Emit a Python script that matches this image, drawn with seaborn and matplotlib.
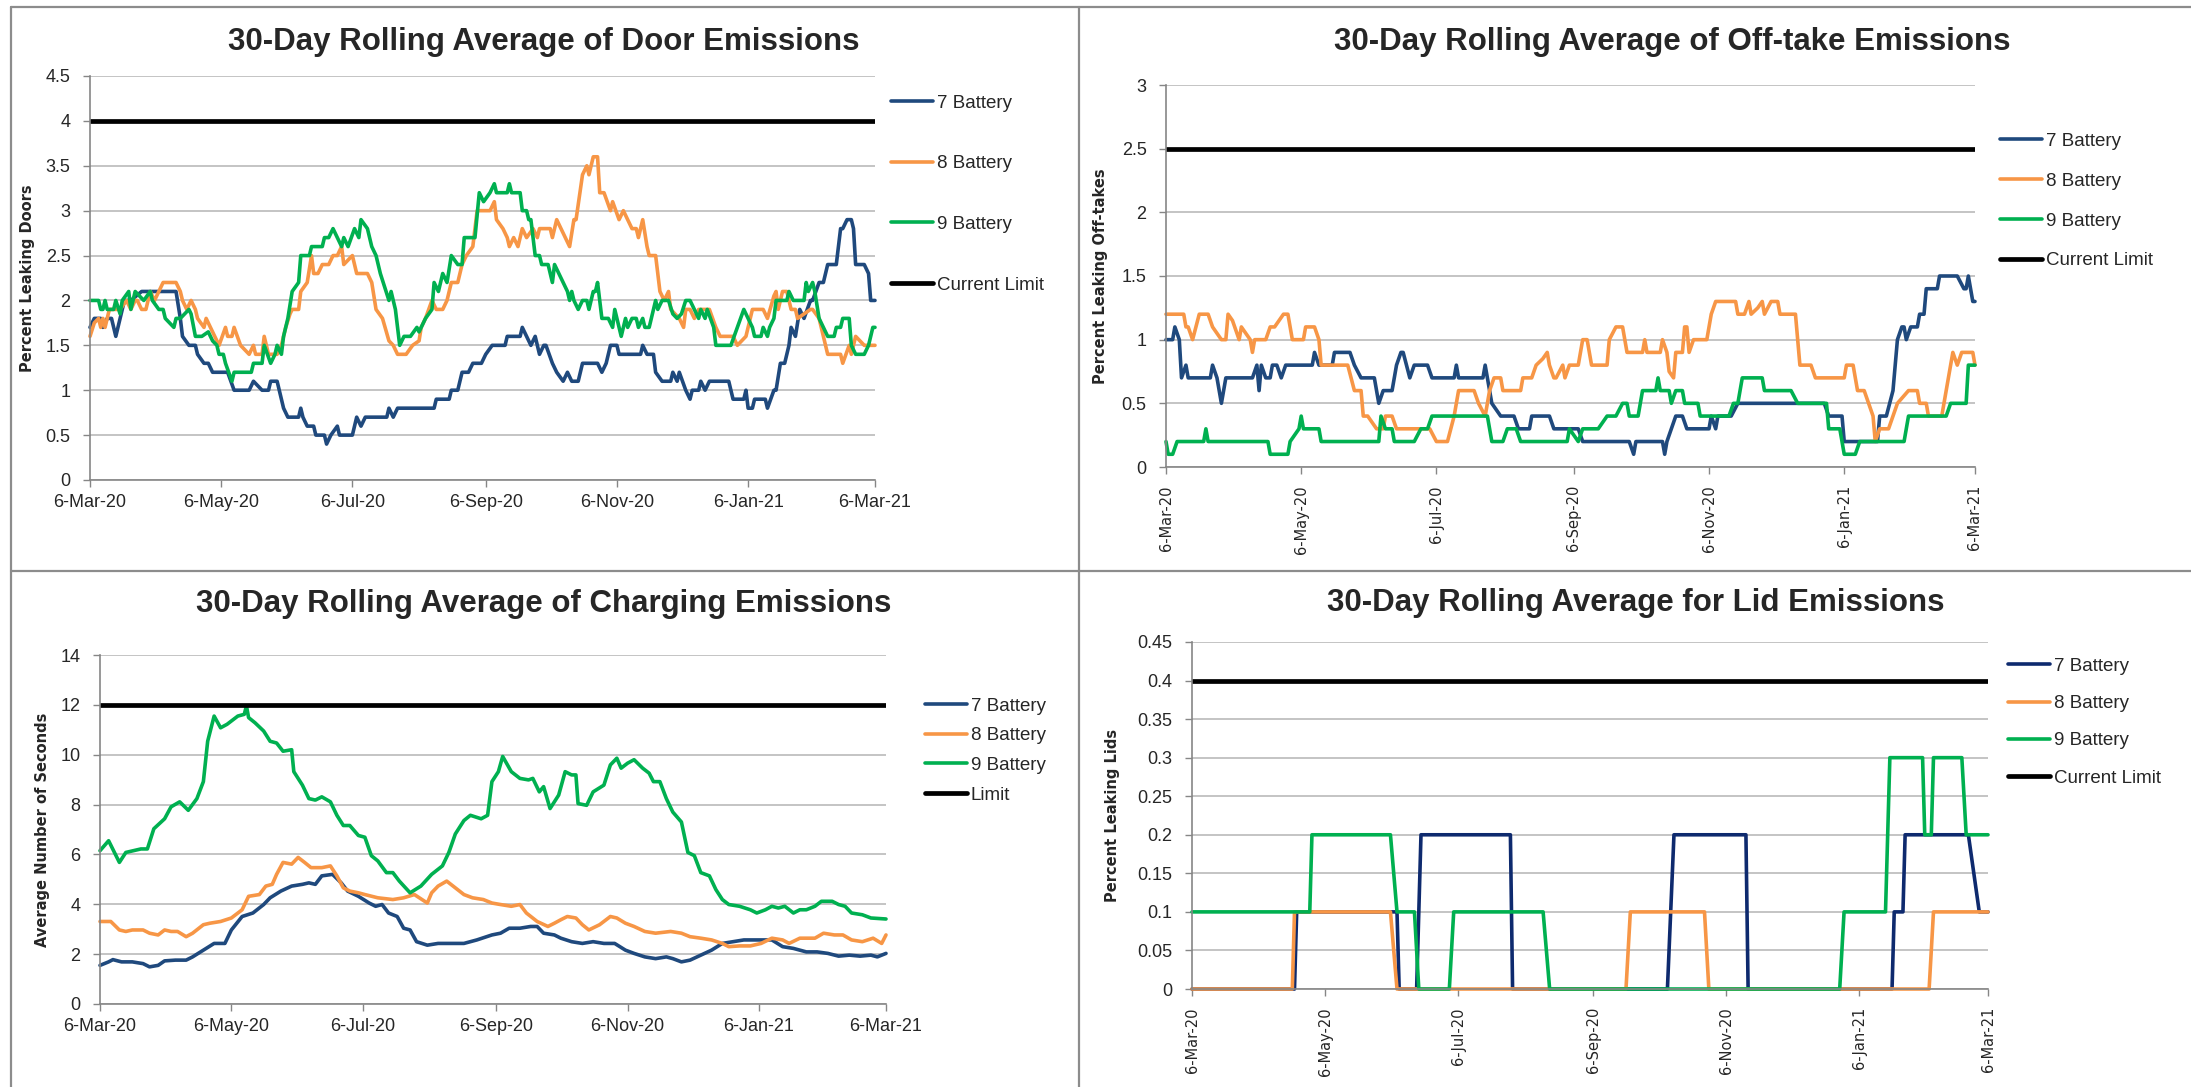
import numpy as np
import pandas as pd
import matplotlib
matplotlib.use("Agg")
import matplotlib.pyplot as plt
from matplotlib.lines import Line2D
import seaborn as sns

# ---- data (day offsets from 6-Mar-20) ----
START = pd.Timestamp("2020-03-06")
END = pd.Timestamp("2021-03-06")
TICK_DATES = ["2020-03-06", "2020-05-06", "2020-07-06", "2020-09-06",
              "2020-11-06", "2021-01-06", "2021-03-06"]
TICK_LABELS = ["6-Mar-20", "6-May-20", "6-Jul-20", "6-Sep-20",
               "6-Nov-20", "6-Jan-21", "6-Mar-21"]
SERIES_NAMES = ["7 Battery", "8 Battery", "9 Battery"]

DOOR_LIMIT = 4.0
DOOR_7_DAYS = [0, 2, 5, 6, 8, 10, 12, 14, 16, 19, 24, 40, 42, 43, 46, 49, 50, 53, 55, 57, 64, 67, 74, 76, 80, 83, 84, 87, 90, 92,
               97, 98, 99, 101, 104, 105, 109, 110, 112, 115, 116, 122, 124, 126, 128, 138, 139, 141, 143, 160, 161, 167, 168,
               171, 173, 176, 178, 182, 184, 187, 193, 194, 200, 201, 203, 205, 207, 209, 211, 212, 215, 217, 220, 222, 224,
               227, 229, 236, 238, 240, 242, 245, 246, 256, 257, 259, 262, 263, 266, 270, 271, 273, 274, 277, 279, 280, 283,
               284, 286, 288, 297, 299, 304, 305, 306, 308, 309, 314, 315, 318, 319, 321, 323, 325, 326, 328, 330, 332, 335,
               336, 339, 341, 343, 347, 349, 350, 352, 354, 355, 356, 360, 362, 363, 365]
DOOR_7 = [1.7, 1.8, 1.8, 1.7, 1.8, 1.8, 1.6, 1.8, 2.0, 2.0, 2.1, 2.1, 1.8, 1.6, 1.5, 1.5, 1.4, 1.3, 1.3, 1.2, 1.2, 1.0, 1.0, 1.1,
          1.0, 1.0, 1.1, 1.1, 0.8, 0.7, 0.7, 0.8, 0.7, 0.6, 0.6, 0.5, 0.5, 0.4, 0.5, 0.6, 0.5, 0.5, 0.7, 0.6, 0.7, 0.7, 0.8,
          0.7, 0.8, 0.8, 0.9, 0.9, 1.0, 1.0, 1.2, 1.2, 1.3, 1.3, 1.4, 1.5, 1.5, 1.6, 1.6, 1.7, 1.6, 1.5, 1.6, 1.4, 1.5, 1.5,
          1.3, 1.2, 1.1, 1.2, 1.1, 1.1, 1.3, 1.3, 1.2, 1.3, 1.5, 1.5, 1.4, 1.4, 1.5, 1.4, 1.4, 1.2, 1.1, 1.1, 1.2, 1.1, 1.2,
          1.0, 0.9, 1.0, 1.0, 1.1, 1.0, 1.1, 1.1, 0.9, 0.9, 1.0, 0.8, 0.8, 0.9, 0.9, 0.8, 1.0, 1.0, 1.3, 1.3, 1.5, 1.7, 1.6,
          1.9, 1.8, 2.0, 2.0, 2.2, 2.2, 2.4, 2.4, 2.8, 2.8, 2.9, 2.9, 2.8, 2.4, 2.4, 2.3, 2.0, 2.0]
DOOR_8_DAYS = [0, 2, 4, 5, 6, 7, 8, 9, 11, 14, 17, 19, 21, 22, 24, 26, 28, 30, 32, 34, 40, 42, 43, 45, 47, 49, 50, 53, 54, 56,
               58, 60, 63, 64, 66, 67, 70, 72, 74, 76, 77, 80, 81, 83, 87, 89, 91, 93, 94, 97, 98, 101, 103, 104, 106, 108,
               111, 113, 115, 117, 118, 120, 122, 124, 129, 131, 133, 136, 139, 141, 143, 147, 150, 153, 154, 156, 159, 161,
               164, 166, 168, 171, 173, 175, 178, 180, 186, 188, 189, 192, 194, 195, 197, 199, 201, 203, 206, 208, 209, 214,
               215, 217, 220, 223, 225, 226, 229, 231, 232, 234, 236, 237, 239, 242, 243, 246, 248, 250, 252, 254, 255, 257,
               259, 260, 263, 265, 267, 269, 270, 274, 276, 277, 279, 281, 283, 286, 288, 291, 293, 299, 301, 305, 308, 313,
               315, 318, 319, 320, 322, 324, 326, 328, 329, 335, 336, 339, 343, 349, 350, 353, 354, 356, 358, 360, 365]
DOOR_8 = [1.6, 1.75, 1.8, 1.7, 1.8, 1.7, 1.8, 1.9, 1.9, 1.9, 2.0, 1.9, 2.0, 2.0, 1.9, 1.9, 2.1, 2.0, 2.1, 2.2, 2.2, 2.1, 2.0,
          1.9, 2.0, 1.9, 1.8, 1.7, 1.8, 1.7, 1.6, 1.5, 1.7, 1.6, 1.6, 1.7, 1.5, 1.45, 1.4, 1.5, 1.4, 1.4, 1.6, 1.4, 1.4, 1.5,
          1.7, 1.85, 1.9, 1.9, 2.1, 2.2, 2.5, 2.3, 2.3, 2.4, 2.4, 2.5, 2.5, 2.6, 2.4, 2.45, 2.5, 2.3, 2.3, 2.2, 1.9, 1.8,
          1.55, 1.5, 1.4, 1.4, 1.5, 1.55, 1.7, 1.8, 2.0, 1.9, 1.9, 2.0, 2.2, 2.2, 2.4, 2.5, 2.6, 3.0, 3.0, 3.1, 2.9, 2.8,
          2.7, 2.6, 2.7, 2.6, 2.8, 2.7, 2.8, 2.7, 2.8, 2.8, 2.7, 2.9, 2.75, 2.6, 2.9, 2.9, 3.4, 3.5, 3.4, 3.6, 3.6, 3.2,
          3.2, 3.0, 3.1, 2.9, 3.0, 2.9, 2.8, 2.8, 2.7, 2.9, 2.6, 2.5, 2.5, 2.1, 2.0, 2.1, 1.9, 1.8, 1.7, 1.9, 1.9, 1.8,
          1.9, 1.9, 1.9, 1.7, 1.6, 1.6, 1.5, 1.6, 1.9, 1.9, 1.8, 2.05, 2.1, 1.9, 2.1, 2.1, 1.9, 1.9, 1.8, 1.9, 1.9, 1.8,
          1.4, 1.4, 1.3, 1.5, 1.4, 1.6, 1.55, 1.5, 1.5]
DOOR_9_DAYS = [0, 4, 5, 6, 7, 8, 11, 12, 14, 15, 18, 19, 21, 23, 25, 28, 29, 32, 34, 35, 37, 39, 40, 42, 44, 46, 47, 49, 52,
               55, 57, 59, 60, 62, 63, 66, 67, 75, 76, 80, 81, 84, 86, 87, 89, 90, 92, 94, 97, 98, 102, 103, 108, 109, 111,
               113, 115, 117, 118, 120, 123, 125, 126, 129, 131, 133, 135, 139, 140, 142, 144, 146, 149, 152, 153, 156, 159,
               160, 162, 164, 166, 168, 171, 173, 174, 179, 181, 183, 186, 188, 189, 194, 195, 196, 200, 201, 203, 204, 205,
               207, 209, 210, 213, 215, 216, 218, 220, 222, 223, 224, 225, 227, 229, 231, 232, 234, 235, 236, 238, 241, 243,
               244, 246, 247, 249, 250, 252, 254, 255, 257, 258, 260, 263, 264, 266, 269, 271, 273, 275, 277, 279, 281, 283,
               284, 286, 287, 290, 291, 298, 301, 304, 305, 308, 309, 312, 313, 315, 316, 318, 319, 324, 325, 327, 332, 333,
               334, 336, 337, 339, 343, 346, 347, 349, 350, 353, 354, 356, 360, 362, 364, 365]
DOOR_9 = [2.0, 2.0, 1.9, 1.9, 2.0, 1.9, 1.9, 2.0, 1.85, 2.0, 2.1, 1.9, 2.1, 2.05, 2.0, 2.1, 2.0, 1.9, 1.9, 1.8, 1.75, 1.7,
          1.8, 1.8, 1.85, 1.9, 1.85, 1.6, 1.6, 1.65, 1.55, 1.5, 1.4, 1.4, 1.3, 1.1, 1.2, 1.2, 1.3, 1.3, 1.5, 1.3, 1.4, 1.5,
          1.4, 1.6, 1.8, 2.1, 2.2, 2.5, 2.5, 2.6, 2.6, 2.7, 2.7, 2.8, 2.7, 2.6, 2.7, 2.6, 2.8, 2.7, 2.9, 2.8, 2.6, 2.5, 2.3,
          2.0, 2.1, 1.9, 1.5, 1.6, 1.6, 1.7, 1.65, 1.8, 1.9, 2.2, 2.1, 2.3, 2.2, 2.5, 2.4, 2.4, 2.7, 2.7, 3.2, 3.1, 3.2,
          3.3, 3.2, 3.2, 3.3, 3.2, 3.2, 3.0, 3.0, 2.9, 2.9, 2.5, 2.5, 2.4, 2.4, 2.2, 2.4, 2.3, 2.2, 2.1, 2.0, 2.1, 2.0,
          1.9, 2.0, 2.0, 1.9, 2.1, 2.1, 2.2, 1.8, 1.8, 1.7, 1.9, 1.7, 1.6, 1.8, 1.7, 1.8, 1.8, 1.7, 1.8, 1.7, 1.7, 2.0,
          1.9, 2.0, 2.0, 1.85, 1.8, 1.85, 2.0, 2.0, 1.9, 1.8, 1.9, 1.8, 1.9, 1.7, 1.5, 1.5, 1.7, 1.9, 1.85, 1.7, 1.6, 1.6,
          1.7, 1.6, 1.7, 1.8, 2.0, 2.0, 2.1, 2.0, 2.0, 2.2, 2.1, 2.2, 2.1, 1.8, 1.6, 1.6, 1.7, 1.7, 1.8, 1.8, 1.5, 1.4,
          1.4, 1.5, 1.7, 1.7]

OFF_LIMIT = 2.5
OFF_7_DAYS = [0, 3, 4, 6, 7, 9, 10, 20, 21, 23, 25, 27, 39, 41, 42, 43, 45, 47, 48, 50, 52, 54, 66, 67, 69, 75, 76, 83, 85,
              88, 94, 96, 98, 102, 104, 106, 107, 110, 112, 118, 120, 130, 131, 132, 143, 144, 145, 147, 151, 157, 159, 164,
              165, 173, 175, 184, 186, 188, 209, 211, 212, 224, 225, 226, 228, 230, 233, 235, 245, 246, 248, 249, 255, 258,
              297, 299, 305, 306, 321, 322, 325, 328, 330, 332, 333, 334, 336, 339, 340, 342, 343, 348, 349, 357, 360, 361,
              362, 364, 365]
OFF_7 = [1.0, 1.0, 1.1, 1.0, 0.7, 0.8, 0.7, 0.7, 0.8, 0.7, 0.5, 0.7, 0.7, 0.8, 0.6, 0.8, 0.7, 0.7, 0.8, 0.8, 0.7, 0.8, 0.8,
         0.9, 0.8, 0.8, 0.9, 0.9, 0.8, 0.7, 0.7, 0.5, 0.6, 0.6, 0.8, 0.9, 0.9, 0.7, 0.8, 0.8, 0.7, 0.7, 0.8, 0.7, 0.7, 0.8,
         0.7, 0.5, 0.4, 0.4, 0.3, 0.3, 0.4, 0.4, 0.3, 0.3, 0.3, 0.2, 0.2, 0.1, 0.2, 0.2, 0.1, 0.2, 0.3, 0.4, 0.4, 0.3, 0.3,
         0.4, 0.3, 0.4, 0.4, 0.5, 0.5, 0.4, 0.4, 0.2, 0.2, 0.4, 0.4, 0.6, 1.0, 1.1, 1.1, 1.0, 1.1, 1.1, 1.2, 1.2, 1.4, 1.4,
         1.5, 1.5, 1.4, 1.4, 1.5, 1.3, 1.3]
OFF_8_DAYS = [0, 8, 9, 10, 12, 15, 19, 21, 23, 25, 27, 28, 30, 32, 33, 34, 36, 38, 39, 40, 45, 47, 49, 51, 53, 55, 57, 62,
              63, 67, 69, 70, 82, 85, 88, 89, 91, 93, 95, 98, 99, 102, 104, 116, 119, 122, 127, 130, 132, 139, 141, 144,
              146, 148, 151, 152, 160, 161, 165, 167, 170, 172, 173, 175, 176, 179, 180, 182, 186, 188, 190, 192, 199, 200,
              203, 206, 208, 215, 216, 217, 223, 224, 226, 227, 229, 230, 233, 234, 235, 236, 238, 244, 246, 248, 257, 258,
              261, 263, 264, 267, 269, 270, 273, 276, 277, 284, 286, 291, 293, 306, 307, 310, 312, 315, 317, 319, 320, 322,
              326, 328, 330, 335, 339, 340, 343, 344, 350, 352, 355, 357, 359, 364, 365]
OFF_8 = [1.2, 1.2, 1.1, 1.1, 1.0, 1.2, 1.2, 1.1, 1.05, 1.0, 1.0, 1.2, 1.15, 1.05, 1.0, 1.1, 1.05, 1.0, 0.9, 1.0, 1.0, 1.1,
         1.1, 1.15, 1.2, 1.2, 1.0, 1.0, 1.1, 1.1, 1.0, 0.8, 0.8, 0.6, 0.6, 0.4, 0.4, 0.35, 0.3, 0.3, 0.4, 0.4, 0.3, 0.3,
         0.3, 0.2, 0.2, 0.4, 0.6, 0.6, 0.5, 0.4, 0.6, 0.7, 0.7, 0.6, 0.6, 0.7, 0.7, 0.8, 0.85, 0.9, 0.8, 0.7, 0.7, 0.8,
         0.7, 0.8, 0.8, 1.0, 1.0, 0.8, 0.8, 1.0, 1.1, 1.1, 0.9, 0.9, 1.0, 0.9, 0.9, 1.0, 0.9, 0.75, 0.7, 0.9, 0.9, 1.1,
         1.1, 0.9, 1.0, 1.0, 1.2, 1.3, 1.3, 1.2, 1.2, 1.3, 1.2, 1.25, 1.3, 1.2, 1.3, 1.3, 1.2, 1.2, 0.8, 0.8, 0.7, 0.7,
         0.8, 0.8, 0.6, 0.6, 0.5, 0.4, 0.2, 0.3, 0.3, 0.4, 0.5, 0.6, 0.6, 0.5, 0.5, 0.4, 0.4, 0.6, 0.9, 0.8, 0.9, 0.9,
         0.8]
OFF_9_DAYS = [0, 1, 3, 5, 17, 18, 19, 46, 47, 55, 56, 58, 60, 61, 62, 69, 70, 96, 97, 99, 102, 103, 112, 115, 118, 120, 145,
              147, 152, 154, 158, 160, 181, 182, 186, 188, 195, 199, 203, 206, 208, 209, 213, 215, 221, 222, 223, 227, 228,
              230, 233, 234, 240, 241, 254, 256, 258, 260, 269, 270, 282, 285, 298, 299, 304, 306, 311, 313, 333, 335, 352,
              354, 361, 362, 365]
OFF_9 = [0.2, 0.1, 0.1, 0.2, 0.2, 0.3, 0.2, 0.2, 0.1, 0.1, 0.2, 0.25, 0.3, 0.4, 0.3, 0.3, 0.2, 0.2, 0.4, 0.3, 0.3, 0.2,
         0.2, 0.3, 0.3, 0.4, 0.4, 0.2, 0.2, 0.3, 0.3, 0.2, 0.2, 0.3, 0.2, 0.3, 0.3, 0.4, 0.4, 0.5, 0.5, 0.4, 0.4, 0.6,
         0.6, 0.7, 0.6, 0.6, 0.5, 0.6, 0.6, 0.5, 0.5, 0.4, 0.4, 0.5, 0.5, 0.7, 0.7, 0.6, 0.6, 0.5, 0.5, 0.3, 0.3, 0.1,
         0.1, 0.2, 0.2, 0.4, 0.4, 0.5, 0.5, 0.8, 0.8]

CHG_LIMIT = 12.0
CHG_7_DAYS = [0, 4, 6, 10, 15, 20, 23, 27, 30, 35, 40, 43, 48, 53, 58, 61, 66, 71, 76, 79, 84, 89, 94, 97, 100, 103, 108,
              112, 115, 120, 125, 128, 131, 134, 138, 141, 144, 147, 152, 157, 162, 169, 175, 182, 186, 190, 195, 200, 203,
              206, 211, 214, 219, 224, 229, 234, 239, 244, 248, 253, 258, 263, 266, 270, 274, 279, 284, 289, 294, 299, 305,
              312, 317, 322, 328, 333, 338, 343, 348, 353, 358, 361, 365]
CHG_7 = [1.55, 1.69, 1.78, 1.69, 1.69, 1.62, 1.49, 1.55, 1.73, 1.76, 1.76, 1.89, 2.16, 2.43, 2.43, 2.97, 3.51, 3.65, 3.99,
         4.26, 4.53, 4.73, 4.8, 4.86, 4.8, 5.14, 5.2, 4.86, 4.53, 4.32, 4.05, 3.92, 3.99, 3.65, 3.51, 3.04, 2.97, 2.5, 2.36,
         2.43, 2.43, 2.43, 2.57, 2.77, 2.84, 3.04, 3.04, 3.11, 3.11, 2.84, 2.77, 2.64, 2.5, 2.43, 2.5, 2.43, 2.43, 2.16,
         2.03, 1.89, 1.82, 1.89, 1.82, 1.69, 1.76, 1.96, 2.16, 2.43, 2.5, 2.57, 2.57, 2.57, 2.3, 2.23, 2.09, 2.09, 2.03,
         1.92, 1.96, 1.92, 1.96, 1.89, 2.03]
CHG_8_DAYS = [0, 5, 9, 12, 15, 20, 23, 27, 30, 33, 36, 40, 43, 48, 51, 56, 61, 66, 69, 74, 77, 80, 82, 85, 89, 92, 95, 98,
              103, 107, 110, 113, 116, 120, 123, 129, 136, 141, 146, 152, 154, 157, 161, 165, 169, 173, 178, 182, 186, 191,
              195, 198, 203, 208, 211, 214, 217, 221, 224, 227, 232, 237, 240, 244, 248, 253, 258, 265, 270, 274, 279, 284,
              289, 292, 297, 302, 307, 312, 317, 320, 325, 332, 336, 341, 345, 349, 354, 359, 363, 365]
CHG_8 = [3.31, 3.31, 2.97, 2.91, 2.97, 2.97, 2.84, 2.77, 2.97, 2.91, 2.91, 2.7, 2.84, 3.18, 3.24, 3.31, 3.45, 3.78, 4.32,
         4.39, 4.73, 4.8, 5.2, 5.68, 5.61, 5.88, 5.68, 5.47, 5.47, 5.54, 5.14, 4.66, 4.53, 4.46, 4.39, 4.26, 4.19, 4.26,
         4.39, 4.05, 4.46, 4.73, 4.93, 4.66, 4.39, 4.26, 4.19, 4.05, 3.99, 3.92, 3.99, 3.65, 3.31, 3.11, 3.24, 3.38, 3.51,
         3.45, 3.18, 2.97, 3.18, 3.51, 3.45, 3.24, 3.11, 2.91, 2.84, 2.91, 2.84, 2.7, 2.64, 2.57, 2.43, 2.3, 2.33, 2.33,
         2.43, 2.64, 2.57, 2.43, 2.64, 2.64, 2.84, 2.77, 2.77, 2.57, 2.5, 2.64, 2.43, 2.77]
CHG_9_DAYS = [0, 4, 9, 12, 19, 22, 25, 30, 33, 37, 41, 45, 48, 50, 53, 56, 59, 64, 67, 68, 69, 72, 76, 79, 82, 85, 89, 90,
              94, 97, 100, 103, 107, 110, 113, 116, 120, 123, 126, 129, 133, 136, 139, 144, 149, 154, 159, 162, 165, 169,
              172, 177, 180, 182, 185, 187, 191, 195, 199, 201, 204, 206, 209, 213, 216, 219, 221, 222, 226, 229, 234, 237,
              240, 242, 245, 248, 252, 255, 257, 260, 263, 266, 270, 273, 276, 279, 283, 286, 289, 292, 297, 302, 305, 309,
              312, 315, 318, 322, 325, 328, 332, 335, 340, 343, 346, 349, 354, 358, 365]
CHG_9 = [6.15, 6.55, 5.68, 6.08, 6.22, 6.22, 7.03, 7.43, 7.91, 8.11, 7.77, 8.24, 8.92, 10.54, 11.55, 11.08, 11.22, 11.55,
         11.62, 11.96, 11.49, 11.28, 10.95, 10.54, 10.47, 10.14, 10.2, 9.32, 8.78, 8.24, 8.18, 8.31, 8.11, 7.57, 7.16, 7.16,
         6.76, 6.69, 5.95, 5.74, 5.27, 5.27, 4.93, 4.46, 4.73, 5.2, 5.54, 6.08, 6.82, 7.36, 7.57, 7.43, 7.57, 8.92, 9.32,
         9.93, 9.32, 9.05, 8.99, 9.05, 8.51, 8.72, 7.84, 8.38, 9.32, 9.19, 9.19, 8.04, 7.97, 8.51, 8.78, 9.59, 9.86, 9.46,
         9.66, 9.8, 9.46, 9.26, 8.92, 8.92, 8.24, 7.7, 7.3, 6.08, 5.95, 5.27, 5.14, 4.59, 4.19, 3.99, 3.92, 3.78, 3.65,
         3.78, 3.92, 3.85, 3.92, 3.65, 3.78, 3.78, 3.92, 4.12, 4.12, 3.99, 3.92, 3.65, 3.58, 3.45, 3.41]

LID_LIMIT = 0.4
LID_7_DAYS = [0, 47, 48, 94, 95, 103, 105, 146, 147, 218, 221, 254, 255, 321, 322, 326, 327, 356, 361, 365]
LID_7 = [0, 0, 0.1, 0.1, 0, 0, 0.2, 0.2, 0, 0, 0.2, 0.2, 0, 0, 0.1, 0.1, 0.2, 0.2, 0.1, 0.1]
LID_8_DAYS = [0, 46, 47, 91, 94, 199, 201, 235, 237, 338, 340, 365]
LID_8 = [0, 0, 0.1, 0.1, 0, 0, 0.1, 0.1, 0, 0, 0.1, 0.1]
LID_9_DAYS = [0, 54, 55, 91, 94, 102, 104, 118, 120, 161, 164, 297, 299, 318, 320, 335, 336, 339, 340, 353, 355, 365]
LID_9 = [0.1, 0.1, 0.2, 0.2, 0.1, 0.1, 0, 0, 0.1, 0.1, 0, 0, 0.1, 0.1, 0.3, 0.3, 0.2, 0.2, 0.3, 0.3, 0.2, 0.2]

# ---- style ----
sns.set_theme(style="white")
plt.rcParams["font.family"] = ["Liberation Sans", "DejaVu Sans"]

BLUE, ORANGE, GREEN = "#1F497D", "#F79646", "#00B050"
NAVY = "#0E2A6E"
GRID = "#B4B4B4"
AXIS = "#868686"

W, H = 2191, 1087
fig = plt.figure(figsize=(W / 100, H / 100), dpi=100)
fig.patch.set_facecolor("white")


def to_dates(days):
    return START + pd.to_timedelta(np.asarray(days, dtype=float), unit="D")


def panel(box, series, colors, limit, limit_label, ymax, ystep, ylabel, ylab_x,
          title, title_xy, leg, rotate):
    l, t, r, b = box
    ax = fig.add_axes([l / W, 1 - b / H, (r - l) / W, (b - t) / H])
    for (days, vals), name, c in zip(series, SERIES_NAMES, colors):
        sns.lineplot(x=to_dates(days), y=vals, ax=ax, color=c, lw=2.6, label=name,
                     estimator=None, sort=False, clip_on=False)
    sns.lineplot(x=[START, END], y=[limit, limit], ax=ax, color="black", lw=3.4,
                 label=limit_label, estimator=None)

    ax.set_xlim(START, END)
    ax.set_ylim(0, ymax)
    yt = np.round(np.arange(0, ymax + ystep / 2, ystep), 3)
    ax.set_yticks(yt)
    ax.set_yticklabels([f"{v:g}" for v in yt])
    ax.yaxis.grid(True, color=GRID, lw=1.1)
    ax.xaxis.grid(False)
    ax.set_axisbelow(True)

    ax.set_xticks(pd.to_datetime(TICK_DATES))
    ax.set_xticks(pd.date_range("2020-04-06", "2021-02-06", freq="2MS") + pd.Timedelta(days=5), minor=True)
    if rotate:
        ax.set_xticklabels(TICK_LABELS, rotation=90, family=["DejaVu Sans"], fontsize=10.5)
        xpad = 8
    else:
        ax.set_xticklabels(TICK_LABELS, fontsize=13)
        xpad = 5
    ax.tick_params(axis="x", which="both", direction="out", length=5, width=1, color=AXIS, pad=xpad,
                   bottom=True)
    ax.tick_params(axis="y", direction="out", length=5, width=1, color=AXIS, pad=9, labelsize=13, left=True)

    for s in ("top", "right"):
        ax.spines[s].set_visible(False)
    for s in ("left", "bottom"):
        ax.spines[s].set_color(AXIS)
        ax.spines[s].set_linewidth(1.2)

    ax.set_xlabel("")
    ax.set_ylabel(ylabel, family=["DejaVu Sans"], fontweight="bold", fontsize=10.5, va="center")
    ax.yaxis.set_label_coords((ylab_x - l) / (r - l), 0.5)

    fig.text(title_xy[0] / W, 1 - title_xy[1] / H, title, ha="center", va="center",
             fontsize=22.5, fontweight="bold")

    lx, ly, pitch = leg
    fs = 13.5
    fs_px = fs * 100 / 72
    ax.legend(loc="upper left", bbox_to_anchor=(lx / W, 1 - (ly + 4 - 0.6 * fs_px) / H),
              bbox_transform=fig.transFigure, frameon=False, borderpad=0, borderaxespad=0,
              handlelength=42 / fs_px, handletextpad=0.2,
              labelspacing=(pitch + 4 - 1.15 * fs_px) / fs_px, fontsize=fs)
    return ax


panel((90, 76, 875, 480),
      [(DOOR_7_DAYS, DOOR_7), (DOOR_8_DAYS, DOOR_8), (DOOR_9_DAYS, DOOR_9)],
      [BLUE, ORANGE, GREEN], DOOR_LIMIT, "Current Limit", 4.5, 0.5,
      "Percent Leaking Doors", 28,
      "30-Day Rolling Average of Door Emissions", (544, 42),
      (891, 102, 61), rotate=False)

panel((1166, 85, 1975, 467),
      [(OFF_7_DAYS, OFF_7), (OFF_8_DAYS, OFF_8), (OFF_9_DAYS, OFF_9)],
      [BLUE, ORANGE, GREEN], OFF_LIMIT, "Current Limit", 3, 0.5,
      "Percent Leaking Off-takes", 1100,
      "30-Day Rolling Average of Off-take Emissions", (1672, 42),
      (2000, 140, 40.3), rotate=True)

panel((100, 655, 886, 1004),
      [(CHG_7_DAYS, CHG_7), (CHG_8_DAYS, CHG_8), (CHG_9_DAYS, CHG_9)],
      [BLUE, ORANGE, GREEN], CHG_LIMIT, "Limit", 14, 2,
      "Average Number of Seconds", 42,
      "30-Day Rolling Average of Charging Emissions", (544, 604),
      (925, 705, 30), rotate=False)

panel((1192, 642, 1988, 989),
      [(LID_7_DAYS, LID_7), (LID_8_DAYS, LID_8), (LID_9_DAYS, LID_9)],
      [NAVY, ORANGE, GREEN], LID_LIMIT, "Current Limit", 0.45, 0.05,
      "Percent Leaking Lids", 1112,
      "30-Day Rolling Average for Lid Emissions", (1636, 603),
      (2008, 665, 37.7), rotate=True)

# panel frame lines
for xs, ys in [((11, W), (7, 7)), ((11, 11), (7, H)), ((1079, 1079), (7, H)), ((11, W), (571, 571))]:
    fig.add_artist(Line2D([x / W for x in xs], [1 - y / H for y in ys], transform=fig.transFigure,
                          color="#8C8C8C", lw=1.6))

fig.savefig("out.png", dpi=100)
